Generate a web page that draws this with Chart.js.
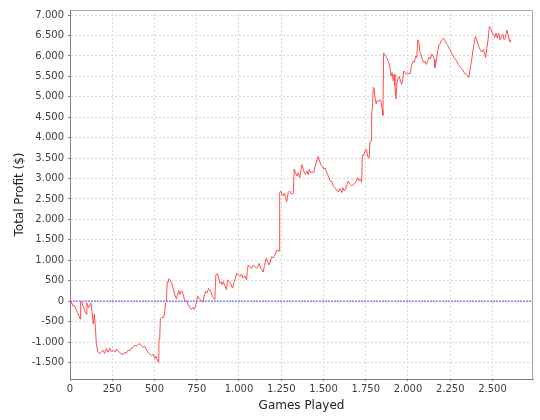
<!DOCTYPE html>
<html>
<head>
<meta charset="utf-8">
<script src="https://cdn.jsdelivr.net/npm/chart.js@4/dist/chart.umd.min.js"></script>
<style>
  html, body { margin: 0; padding: 0; background: #fff; }
  canvas { display: block; }
</style>
</head>
<body>
<canvas id="chart" width="540" height="420"></canvas>
<script>
// games played (x) and running profit in $ (y)
const games = [
  0, 5, 10, 18, 25, 35, 45, 55, 61, 63, 68, 78, 88, 97, 100, 110, 118, 124, 132, 138,
  144, 150, 156, 166, 176, 185, 195, 205, 215, 225, 235, 245, 255, 265, 275, 285, 294, 304, 314, 324,
  334, 344, 354, 363, 373, 383, 393, 403, 413, 423, 432, 443, 453, 463, 472, 482, 492, 502, 510, 517,
  525, 527, 531, 535, 541, 555, 561, 566, 571, 575, 580, 586, 594, 602, 610, 620, 630, 637, 644, 650,
  656, 664, 672, 680, 690, 699, 709, 719, 727, 735, 743, 749, 755, 765, 775, 782, 788, 794, 802, 811,
  820, 828, 835, 843, 851, 857, 863, 873, 880, 887, 895, 901, 907, 916, 926, 932, 942, 952, 962, 970,
  978, 986, 995, 1005, 1015, 1025, 1035, 1045, 1049, 1055, 1065, 1075, 1085, 1095, 1105, 1114, 1120, 1128, 1136, 1143,
  1150, 1160, 1168, 1177, 1185, 1193, 1203, 1213, 1223, 1231, 1238, 1241, 1246, 1254, 1262, 1269, 1276, 1282, 1291, 1300,
  1311, 1321, 1327, 1335, 1343, 1351, 1359, 1365, 1371, 1378, 1386, 1394, 1402, 1410, 1416, 1424, 1433, 1442, 1450, 1456,
  1463, 1469, 1477, 1485, 1493, 1501, 1509, 1517, 1525, 1533, 1540, 1549, 1558, 1568, 1578, 1588, 1598, 1608, 1615, 1623,
  1631, 1639, 1647, 1657, 1667, 1677, 1687, 1694, 1703, 1710, 1718, 1726, 1730, 1738, 1746, 1754, 1762, 1770, 1776, 1782,
  1785, 1790, 1795, 1800, 1805, 1812, 1818, 1826, 1833, 1840, 1848, 1852, 1856, 1864, 1874, 1884, 1892, 1900, 1906, 1913,
  1918, 1923, 1929, 1935, 1943, 1949, 1955, 1963, 1969, 1975, 1982, 1990, 1999, 2006, 2014, 2022, 2030, 2038, 2046, 2052,
  2058, 2064, 2070, 2078, 2085, 2094, 2101, 2109, 2117, 2125, 2133, 2141, 2148, 2156, 2160, 2168, 2176, 2184, 2192, 2200,
  2210, 2218, 2226, 2234, 2242, 2249, 2257, 2265, 2273, 2281, 2289, 2297, 2305, 2313, 2320, 2328, 2336, 2344, 2352, 2360,
  2368, 2376, 2384, 2392, 2399, 2407, 2415, 2423, 2431, 2439, 2447, 2455, 2459, 2467, 2474, 2482, 2490, 2498, 2506, 2514,
  2521, 2529, 2537, 2545, 2553, 2561, 2569, 2577, 2585, 2593, 2601, 2605, 2610
];
const profit = [
  0, -60, -40, -120, -100, -200, -280, -380, -440, -20, -10, -120, -240, -320, -40, -160, -100, -40, -320, -560,
  -320, -640, -1050, -1250, -1290, -1240, -1200, -1280, -1160, -1250, -1150, -1230, -1200, -1250, -1170, -1230, -1250, -1300, -1310, -1250,
  -1280, -1200, -1220, -1150, -1130, -1080, -1100, -1060, -1040, -1090, -1130, -1100, -1200, -1260, -1290, -1330, -1300, -1400, -1350, -1440,
  -1500, -920, -900, -420, -400, -400, -240, -40, -20, 480, 450, 550, 500, 440, 320, 160, 60, 160, 260, 160,
  240, 240, 120, 0, 0, -80, -160, -200, -150, -200, -120, 0, 120, 60, 20, 0, -30, 120, 240, 200,
  310, 260, 220, 120, 60, 40, 640, 670, 560, 440, 470, 400, 480, 380, 280, 520, 480, 420, 320, 450,
  550, 680, 640, 600, 660, 560, 620, 520, 724, 885, 840, 805, 885, 840, 800, 860, 925, 800, 765, 710,
  845, 1045, 980, 885, 960, 1086, 1060, 1127, 1248, 1240, 1224, 2655, 2696, 2620, 2575, 2640, 2535, 2430, 2655, 2696,
  2615, 2655, 3235, 3138, 3058, 3140, 3018, 3150, 3339, 3259, 3155, 3098, 3180, 3098, 3219, 3138, 3170, 3138, 3283, 3380,
  3459, 3541, 3420, 3339, 3300, 3235, 3260, 3179, 3098, 3018, 2938, 2930, 2817, 2776, 2720, 2672, 2750, 2655, 2776, 2700,
  2740, 2856, 2938, 2860, 2817, 2860, 2880, 2938, 3018, 2950, 2977, 2913, 3580, 3560, 3686, 3718, 3541, 3500, 3903, 3920,
  4587, 4748, 5231, 5190, 4990, 4828, 4908, 4880, 4925, 4900, 4666, 4546, 6076, 6035, 5955, 5873, 5753, 5511, 5593, 5390,
  5552, 5270, 4949, 5352, 5472, 5500, 5390, 5311, 5432, 5633, 5600, 5552, 5593, 5560, 5576, 5794, 5873, 5850, 5994, 5955,
  6397, 6357, 6115, 6035, 5914, 5834, 5870, 5794, 5870, 5970, 5930, 6051, 6000, 5914, 5713, 5873, 6115, 6276, 6317, 6397,
  6437, 6380, 6317, 6276, 6196, 6156, 6076, 6035, 5955, 5914, 5873, 5794, 5760, 5713, 5680, 5633, 5569, 5552, 5511, 5472,
  5673, 5873, 6115, 6317, 6477, 6397, 6276, 6196, 6115, 6100, 6156, 6051, 5955, 6196, 6397, 6718, 6678, 6558, 6530, 6453,
  6560, 6437, 6560, 6397, 6470, 6534, 6397, 6450, 6638, 6518, 6357, 6397, 6330
];

const xTicks = [0, 250, 500, 750, 1000, 1250, 1500, 1750, 2000, 2250, 2500];
const yTicks = [-1500, -1000, -500, 0, 500, 1000, 1500, 2000, 2500, 3000, 3500, 4000, 4500, 5000, 5500, 6000, 6500, 7000];
const xMin = 0, xMax = 2740;
const yMin = -1905, yMax = 7125;
// break-even marker
const zeroX = [xMin, xMax];
const zeroY = [0, 0];

// 1.000 / -1.500 style labels
const fmt = v => (v < 0 ? '-' : '') + Math.round(Math.abs(v)).toString().replace(/\B(?=(\d{3})+(?!\d))/g, '.');
const useTicks = list => s => { s.ticks = list.map(v => ({ value: v })); };

const tickFont = { family: 'DejaVu Sans', size: 10 };
const titleFont = { family: 'DejaVu Sans', size: 12 };

const plotOutline = {
  id: 'plotOutline',
  afterDraw(chart) {
    const { ctx, chartArea: a } = chart;
    const l = Math.round(a.left) + 0.5, r = Math.round(a.right) - 0.5, t = Math.round(a.top) + 0.5;
    ctx.save();
    ctx.strokeStyle = '#a8a8a8';
    ctx.lineWidth = 1;
    ctx.beginPath();
    ctx.moveTo(l, t);
    ctx.lineTo(r, t);
    ctx.lineTo(r, Math.round(a.bottom));
    ctx.stroke();
    ctx.restore();
  }
};

new Chart(document.getElementById('chart').getContext('2d'), {
  type: 'line',
  data: {
    datasets: [{
      data: games.map((g, i) => ({ x: g, y: profit[i] })),
      borderColor: '#ff4f4f',
      borderWidth: 1,
      pointRadius: 0,
      tension: 0,
      fill: false,
      order: 1
    }, {
      data: zeroX.map((x, i) => ({ x, y: zeroY[i] })),
      borderColor: '#5050ff',
      borderWidth: 1,
      borderDash: [2, 1],
      pointRadius: 0,
      fill: false,
      order: 2
    }]
  },
  options: {
    responsive: false,
    animation: false,
    layout: { padding: { top: 5, right: 7, left: 0, bottom: 0 } },
    plugins: { legend: { display: false }, tooltip: { enabled: false } },
    scales: {
      x: {
        type: 'linear',
        min: xMin, max: xMax,
        afterFit: s => { s.height = 41; },
        afterBuildTicks: useTicks(xTicks),
        ticks: { maxRotation: 0, autoSkip: false,
                 font: tickFont, color: '#404040', padding: 2, callback: fmt },
        grid: { color: '#d8d8d8', tickColor: '#808080', tickLength: 2 },
        border: { color: '#808080', dash: [2, 2] },
        title: { display: true, text: 'Games Played', font: titleFont, color: '#222',
                 padding: { top: 0, bottom: 7 } }
      },
      y: {
        min: yMin, max: yMax,
        afterFit: s => { s.width = 70; },
        afterBuildTicks: useTicks(yTicks),
        ticks: { autoSkip: false, font: tickFont, color: '#404040', padding: 4, callback: fmt },
        grid: { color: '#d8d8d8', tickColor: '#808080', tickLength: 2 },
        border: { color: '#808080', dash: [2, 2] },
        title: { display: true, text: 'Total Profit ($)', font: titleFont, color: '#222',
                 padding: { top: 13, bottom: 0 } }
      }
    }
  },
  plugins: [plotOutline]
});
</script>
</body>
</html>
